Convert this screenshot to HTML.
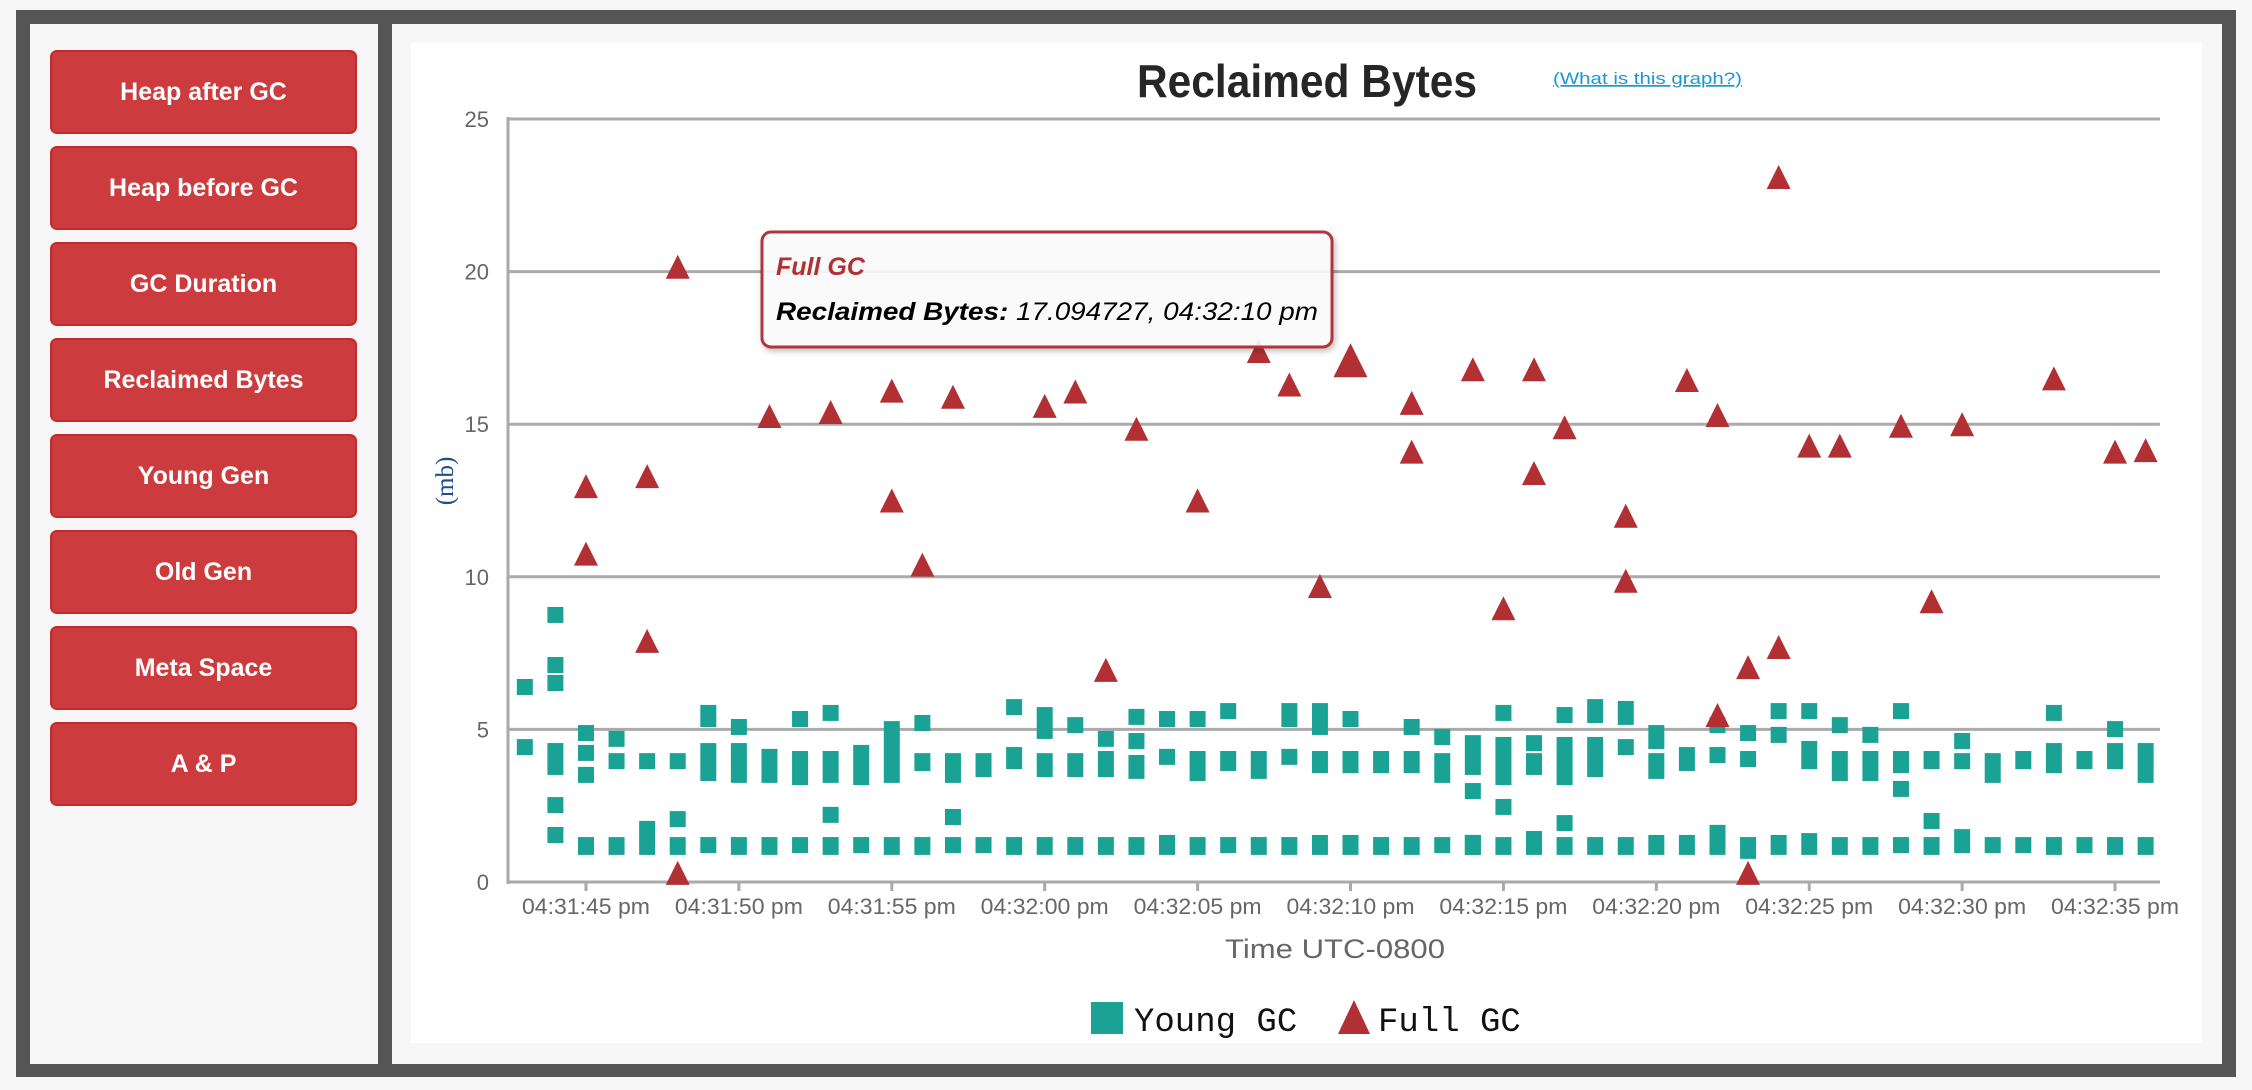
<!DOCTYPE html>
<html><head><meta charset="utf-8">
<style>
html,body{margin:0;padding:0;background:#f7f7f7;}
body{width:2252px;height:1090px;position:relative;overflow:hidden;font-family:"Liberation Sans",sans-serif;}
.frame{position:absolute;left:16px;top:10px;width:2220px;height:1067px;background:#555;}
.left{position:absolute;left:30px;top:24px;width:348px;height:1040px;background:#f7f7f7;}
.right{position:absolute;left:392px;top:24px;width:1830px;height:1040px;background:#f7f7f7;}
.card{position:absolute;left:411px;top:43px;width:1791px;height:1000px;background:#fff;}
.btn{position:absolute;left:50px;width:303px;height:80px;background:#cc3c3e;border:2px solid #c42a2c;border-radius:7px;color:#fff;font-weight:bold;font-size:25px;text-align:center;line-height:80px;}
svg{position:absolute;left:0;top:0;}
</style></head><body>
<div class="frame"></div>
<div class="left"></div>
<div class="right"></div>
<div class="card"></div>
<div class="btn" style="top:50px">Heap after GC</div>
<div class="btn" style="top:146px">Heap before GC</div>
<div class="btn" style="top:242px">GC Duration</div>
<div class="btn" style="top:338px">Reclaimed Bytes</div>
<div class="btn" style="top:434px">Young Gen</div>
<div class="btn" style="top:530px">Old Gen</div>
<div class="btn" style="top:626px">Meta Space</div>
<div class="btn" style="top:722px">A &amp; P</div>

<svg id="chart" width="2252" height="1090">
  <text x="1137" y="97" font-family="Liberation Sans, sans-serif" font-weight="bold" font-size="46" fill="#262626" textLength="340" lengthAdjust="spacingAndGlyphs">Reclaimed Bytes</text>
  <text x="1553" y="84" font-family="Liberation Sans, sans-serif" font-size="17" fill="#1a96d4" text-decoration="underline" textLength="189" lengthAdjust="spacingAndGlyphs">(What is this graph?)</text>
  <g id="grid"></g>
  <g id="marks"></g>
  <text transform="translate(453,481) rotate(-90)" text-anchor="middle" font-family="Liberation Serif, serif" font-size="25" fill="#1e4e8a">(mb)</text>
  <text x="1335" y="958" text-anchor="middle" font-family="Liberation Sans, sans-serif" font-size="27" fill="#666" textLength="220" lengthAdjust="spacingAndGlyphs">Time UTC-0800</text>
  <g>
    <rect x="1091" y="1002" width="32" height="32" fill="#1aa394"></rect>
    <text x="1134" y="1031" font-family="Liberation Mono, monospace" font-size="34" fill="#111">Young GC</text>
    <polygon points="1354,1000 1370,1034 1338,1034" fill="#b22f34"></polygon>
    <text x="1378" y="1031" font-family="Liberation Mono, monospace" font-size="34" fill="#111">Full GC</text>
  </g>
  <g>
    <rect x="762" y="232" width="570" height="115" rx="9" fill="#fff" fill-opacity="0.9" stroke="#b5333a" stroke-width="3" style="filter:drop-shadow(2px 3px 3px rgba(0,0,0,0.25))"></rect>
    <text x="776" y="275" font-family="Liberation Sans, sans-serif" font-size="25" font-style="italic" font-weight="bold" fill="#b03034">Full GC</text>
    <text x="776" y="320" font-family="Liberation Sans, sans-serif" font-size="25" font-style="italic" fill="#000" textLength="542" lengthAdjust="spacingAndGlyphs"><tspan font-weight="bold">Reclaimed Bytes:</tspan> 17.094727, 04:32:10 pm</text>
  </g>
</svg>
<script>
// seconds after 04:31:00 pm
const yTicks = [0,5,10,15,20,25];
const xTickSecs = [45,50,55,60,65,70,75,80,85,90,95];
const xTickLabels = ["04:31:45 pm","04:31:50 pm","04:31:55 pm","04:32:00 pm","04:32:05 pm","04:32:10 pm","04:32:15 pm","04:32:20 pm","04:32:25 pm","04:32:30 pm","04:32:35 pm"];
// Young GC clusters: time, upper value, lower value
const youngT = [43,43,44,44,44,44,44,44,45,45,45,45,46,46,46,47,47,48,48,48,49,49,49,50,50,50,51,51,52,52,52,53,53,53,53,54,54,55,55,56,56,56,57,57,57,58,58,59,59,59,60,60,60,
61,61,61,62,62,62,63,63,63,63,64,64,64,65,65,65,66,66,66,67,67,68,68,68,69,69,69,70,70,70,71,71,72,72,72,73,73,73,74,74,74,74,75,75,75,75,76,76,76,77,77,77,77,78,78,78,
79,79,79,80,80,80,81,81,82,82,82,83,83,83,84,84,84,85,85,85,86,86,86,87,87,87,88,88,88,88,89,89,89,90,90,90,91,91,92,92,93,93,93,94,94,95,95,95,96,96];
const youngHi = [6.39,4.42,8.75,7.11,6.52,4.29,2.52,1.54,4.88,4.23,3.51,1.21,4.69,3.96,1.21,3.96,1.74,3.96,2.06,1.21,5.54,4.29,1.21,5.08,4.29,1.21,4.10,1.21,5.34,4.03,1.21,5.54,4.03,2.20,1.21,4.23,1.21,5.01,1.21,5.21,3.96,1.21,3.96,2.13,1.21,3.96,1.21,5.73,4.16,1.21,5.47,3.96,1.21,
5.14,3.96,1.21,4.69,4.03,1.21,5.41,4.62,3.90,1.21,5.34,4.10,1.28,5.34,4.03,1.21,5.60,4.03,1.21,4.03,1.21,5.60,4.10,1.21,5.60,4.03,1.28,5.34,4.03,1.28,4.03,1.21,5.08,4.03,1.21,4.75,3.96,1.21,4.55,2.98,1.28,1.28,5.54,4.49,2.46,1.21,4.55,3.96,1.41,5.47,4.49,1.93,1.21,5.73,4.49,1.21,
5.67,4.42,1.21,4.88,3.96,1.28,4.16,1.28,5.14,4.16,1.61,4.88,4.03,1.21,5.60,4.82,1.28,5.60,4.36,1.34,5.14,4.03,1.21,4.82,4.03,1.21,5.60,4.03,3.05,1.21,4.03,2.00,1.21,4.62,3.96,1.47,3.96,1.21,4.03,1.21,5.54,4.29,1.21,4.03,1.21,5.01,4.29,1.21,4.29,1.21];
const youngLo = [6.39,4.42,8.75,7.11,6.52,3.77,2.52,1.54,4.88,4.23,3.51,1.15,4.69,3.96,1.15,3.96,1.15,3.96,2.06,1.15,5.34,3.57,1.21,5.08,3.51,1.15,3.51,1.15,5.34,3.44,1.21,5.54,3.51,2.20,1.15,3.44,1.21,3.51,1.15,5.21,3.90,1.15,3.51,2.13,1.21,3.70,1.21,5.73,3.96,1.15,4.95,3.70,1.15,
5.14,3.70,1.15,4.69,3.70,1.15,5.41,4.62,3.64,1.15,5.34,4.10,1.15,5.34,3.57,1.15,5.60,3.90,1.21,3.64,1.15,5.34,4.10,1.15,5.08,3.83,1.15,5.34,3.83,1.15,3.83,1.15,5.08,3.83,1.15,4.75,3.51,1.21,3.77,2.98,1.15,1.15,5.54,3.44,2.46,1.15,4.55,3.77,1.15,5.47,3.44,1.93,1.15,5.47,3.70,1.15,
5.41,4.42,1.15,4.62,3.64,1.15,3.90,1.15,5.14,4.16,1.15,4.88,4.03,1.02,5.60,4.82,1.15,5.60,3.96,1.15,5.14,3.57,1.15,4.82,3.57,1.15,5.60,3.83,3.05,1.21,3.96,2.00,1.15,4.62,3.96,1.21,3.51,1.21,3.96,1.21,5.54,3.83,1.15,3.96,1.21,5.01,3.96,1.15,3.51,1.15];
const fullT = [45,45,47,47,48,48,51,53,55,55,56,57,60,61,62,63,65,67,68,69,70,72,72,74,75,76,76,77,79,79,81,82,82,83,83,84,84,85,86,88,89,90,93,95,96];
const fullV = [12.97,10.76,7.9,13.3,20.16,0.3,15.27,15.4,16.1,12.5,10.4,15.9,15.6,16.07,6.95,14.85,12.5,17.4,16.3,9.7,17.094727,15.7,14.1,16.8,8.97,16.8,13.4,14.9,12.0,9.87,16.45,15.3,5.47,7.04,0.3,7.7,23.1,14.3,14.3,14.95,9.2,15.0,16.5,14.1,14.15];
const hoverT = 70;

const NS = "http://www.w3.org/2000/svg";
const X0 = 508, X1 = 2160, Y0 = 882, Y1 = 119;
const tMin = 42.45, tMax = 96.47, vMax = 25;
function xs(t){ return X0 + (t - tMin) / (tMax - tMin) * (X1 - X0); }
function ys(v){ return Y0 - v / vMax * (Y0 - Y1); }
function mk(tag, attrs, parent){ const e = document.createElementNS(NS, tag); for (const k in attrs) e.setAttribute(k, attrs[k]); parent.appendChild(e); return e; }

const grid = document.getElementById('grid');
const marks = document.getElementById('marks');
yTicks.forEach(v => {
  const l = mk('line', {x1: X0, x2: X1, y1: ys(v), y2: ys(v), stroke: '#aaa', 'stroke-width': 3}, grid);
  
  
  const t = mk('text', {x: 489, y: ys(v) + 8, 'text-anchor': 'end', 'font-family': 'Liberation Sans, sans-serif', 'font-size': 22, fill: '#666'}, grid);
  t.textContent = String(v);
  
  
});
const ax = mk('line', {x1: X0, x2: X0, y1: Y1 - 2, y2: Y0 + 2, stroke: '#aaa', 'stroke-width': 3}, grid);


xTickSecs.forEach((s, i) => {
  const tk = mk('line', {x1: xs(s), x2: xs(s), y1: Y0, y2: Y0 + 9, stroke: '#aaa', 'stroke-width': 3}, grid);
  
  
  const t = mk('text', {x: xs(s), y: 914, 'text-anchor': 'middle', 'font-family': 'Liberation Sans, sans-serif', 'font-size': 22, fill: '#666', textLength: 128, lengthAdjust: 'spacingAndGlyphs'}, grid);
  t.textContent = xTickLabels[i];
  
  
});
youngT.forEach((t, i) => {
  const top = ys(youngHi[i]) - 8, bot = ys(youngLo[i]) + 8;
  const r = mk('rect', {x: xs(t) - 8, y: top, width: 16, height: bot - top, fill: '#1aa394'}, marks);
  
  
});
fullT.forEach((t, i) => {
  const cx = xs(t), cy = ys(fullV[i]);
  const h = (t === hoverT && fullV[i] > 17) ? 17 : 12;
  const p = mk('polygon', {points: `${cx},${cy - h} ${cx + h},${cy + h} ${cx - h},${cy + h}`, fill: '#b22f34'}, marks);
  
  
});
</script>
</body></html>
